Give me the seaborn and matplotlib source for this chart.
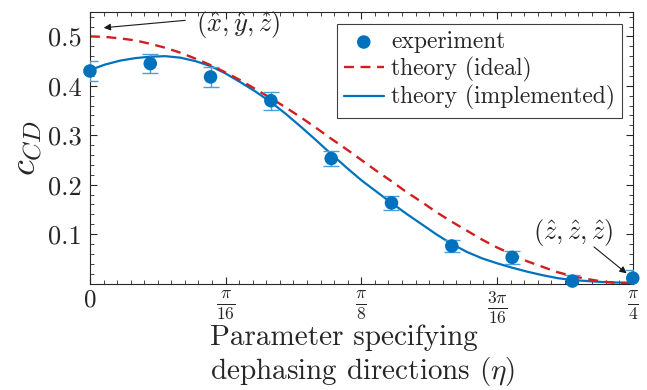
import numpy as np
import pandas as pd
import seaborn as sns
import matplotlib.pyplot as plt
from matplotlib.ticker import FixedLocator, MultipleLocator

# experiment, measured at eta = k*pi/36
eta_exp = [0.0, 0.0873, 0.1745, 0.2618, 0.3491, 0.4363, 0.5236, 0.6109, 0.6981, 0.7854]
c_exp = [0.430, 0.445, 0.418, 0.370, 0.253, 0.163, 0.076, 0.053, 0.005, 0.011]
c_err = [0.020, 0.020, 0.020, 0.018, 0.016, 0.014, 0.013, 0.013, 0.013, 0.016]

# theory curves read on a grid of eta = k*pi/144
eta_th = [0.0, 0.0218, 0.0436, 0.0654, 0.0873, 0.1091, 0.1309, 0.1527, 0.1745, 0.1963,
          0.2182, 0.2400, 0.2618, 0.2836, 0.3054, 0.3272, 0.3491, 0.3709, 0.3927, 0.4145,
          0.4363, 0.4581, 0.4800, 0.5018, 0.5236, 0.5454, 0.5672, 0.5890, 0.6109, 0.6327,
          0.6545, 0.6763, 0.6981, 0.7199, 0.7418, 0.7636, 0.7854]
c_ideal = [0.500, 0.499, 0.496, 0.492, 0.485, 0.477, 0.467, 0.455, 0.442, 0.427,
           0.411, 0.393, 0.375, 0.356, 0.336, 0.315, 0.293, 0.272, 0.250, 0.228,
           0.207, 0.185, 0.165, 0.144, 0.125, 0.107, 0.089, 0.073, 0.059, 0.045,
           0.034, 0.023, 0.015, 0.009, 0.004, 0.001, 0.000]
c_impl = [0.432, 0.443, 0.451, 0.456, 0.459, 0.460, 0.457, 0.450, 0.440, 0.425,
          0.407, 0.388, 0.367, 0.343, 0.317, 0.290, 0.262, 0.235, 0.209, 0.186,
          0.163, 0.141, 0.120, 0.099, 0.080, 0.064, 0.051, 0.041, 0.032, 0.024,
          0.017, 0.011, 0.007, 0.005, 0.003, 0.002, 0.002]

xtick_pos = [0.0, 0.19635, 0.3927, 0.58905, 0.7854]
xtick_labels = ["0", r"$\frac{\pi}{16}$", r"$\frac{\pi}{8}$", r"$\frac{3\pi}{16}$", r"$\frac{\pi}{4}$"]
ytick_pos = [0.1, 0.2, 0.3, 0.4, 0.5]

blue = "#0072BD"
light_blue = "#4A9FDA"
red = "#D01F1F"

sns.set_theme(style="ticks")
plt.rcParams["font.family"] = "serif"
plt.rcParams["font.serif"] = ["cmr10", "DejaVu Serif"]
plt.rcParams["mathtext.fontset"] = "cm"
plt.rcParams["axes.formatter.use_mathtext"] = True

fig = plt.figure(figsize=(6.47, 3.9), dpi=100)
ax = fig.add_axes([0.139, 0.273, 0.839, 0.697])

th = pd.DataFrame({"eta": eta_th, "ideal": c_ideal, "impl": c_impl})
sns.lineplot(data=th, x="eta", y="impl", ax=ax, color=blue, lw=1.6,
             label="theory (implemented)", zorder=2)
sns.lineplot(data=th, x="eta", y="ideal", ax=ax, color=red, lw=1.7,
             linestyle=(0, (4.2, 2.8)), label="theory (ideal)", zorder=2)
ax.errorbar(eta_exp, c_exp, yerr=c_err, fmt="none", ecolor=light_blue,
            elinewidth=1.0, capsize=6, capthick=1.0, zorder=3)
sns.scatterplot(x=eta_exp, y=c_exp, ax=ax, color=blue, s=95, edgecolor="none",
                label="experiment", zorder=4, clip_on=False)

ax.set_xlim(0, 0.7854)
ax.set_ylim(0, 0.55)
ax.xaxis.set_major_locator(FixedLocator(xtick_pos))
ax.set_xticklabels(xtick_labels, fontsize=18)
ax.xaxis.set_minor_locator(MultipleLocator(0.7854 / 40))
ax.set_yticks(ytick_pos)
ax.set_yticklabels([f"{v:.1f}" for v in ytick_pos], fontsize=19)
ax.yaxis.set_minor_locator(MultipleLocator(0.02))
ax.tick_params(which="both", direction="in", top=True, right=True, color="#262626")
ax.tick_params(which="major", length=5, width=0.8, pad=6)
ax.tick_params(axis="x", which="major", pad=4)
ax.tick_params(which="minor", length=3, width=0.6)
for s in ax.spines.values():
    s.set_visible(True)
    s.set_linewidth(0.8)
    s.set_color("#262626")

ax.set_xlabel("")
# x label in two left-aligned lines
fig.text(210 / 647, 1 - 345 / 390, "Parameter specifying", fontsize=21,
         ha="left", va="baseline")
fig.text(210 / 647, 1 - 379 / 390, "dephasing directions ($\\eta$)", fontsize=21,
         ha="left", va="baseline")
ax.set_ylabel("$c_{CD}$", fontsize=26, labelpad=2)

# annotations
ax.annotate("", xy=(0.0159, 0.517), xytext=(0.1418, 0.533),
            arrowprops=dict(arrowstyle="-|>", color="k", lw=0.8, mutation_scale=10))
ax.text(0.2141, 0.525, r"$(\hat{x},\hat{y},\hat{z})$", fontsize=19,
        ha="center", va="center")
ax.annotate("", xy=(0.7796, 0.017), xytext=(0.7261, 0.0777),
            arrowprops=dict(arrowstyle="-|>", color="k", lw=0.8, mutation_scale=10))
ax.text(0.6986, 0.104, r"$(\hat{z},\hat{z},\hat{z})$", fontsize=19,
        ha="center", va="center")

handles, labels = ax.get_legend_handles_labels()
order = [labels.index(l) for l in ["experiment", "theory (ideal)", "theory (implemented)"]]
leg = ax.legend([handles[i] for i in order], [labels[i] for i in order],
                loc="upper right", bbox_to_anchor=(622 / 647, 1 - 24 / 390),
                bbox_transform=fig.transFigure, borderaxespad=0, fontsize=17,
                handlelength=1.7, handletextpad=0.3, labelspacing=0.15,
                borderpad=0.3, fancybox=False, framealpha=1, edgecolor="#404040")
leg.get_frame().set_linewidth(0.8)

fig.savefig("out.png", dpi=100)
